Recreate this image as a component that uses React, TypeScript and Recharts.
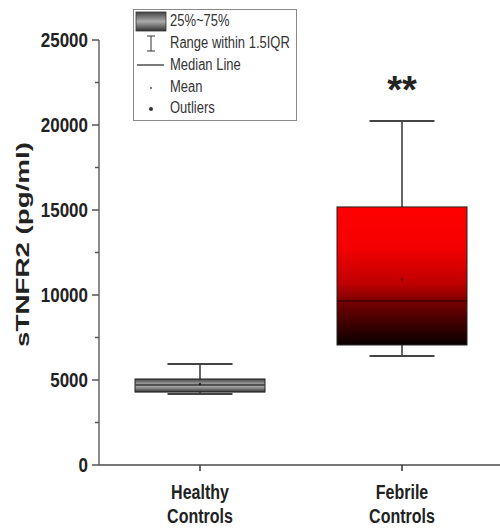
import React from "react";
import { ComposedChart, Bar, XAxis, YAxis } from "recharts";

// ---- data ----
const categories = ["Healthy Controls", "Febrile Controls"];
const whiskerLow = [4180, 6410];
const q1 = [4290, 7060];
const median = [4710, 9650];
const q3 = [5060, 15180];
const whiskerHigh = [5940, 20240];
const mean = [4760, 10900];
const significance = ["", "**"];
const yTicks = [0, 2500, 5000, 7500, 10000, 12500, 15000, 17500, 20000, 22500, 25000];
const legendLabels = ["25%~75%", "Range within 1.5IQR", "Median Line", "Mean", "Outliers"];
const yLabel = "sTNFR2 (pg/ml)";

const data = categories.map((c, i) => ({
  name: c,
  box: [q1[i], q3[i]],
  q1: q1[i],
  q3: q3[i],
  median: median[i],
  low: whiskerLow[i],
  high: whiskerHigh[i],
  mean: mean[i],
  sig: significance[i],
  idx: i,
}));

const FONT = "'Liberation Sans', Arial, sans-serif";

const BoxShape = (props: any) => {
  const { x, y, width, height, payload } = props;
  const h = Math.abs(height);
  const top = Math.min(y, y + height);
  const k = h / (payload.q3 - payload.q1);
  const yOf = (v: number) => top + (payload.q3 - v) * k;
  const cx = x + width / 2;
  const capW = width / 2;
  const gid = `boxgrad${payload.idx}`;
  const red = payload.idx === 1;
  return (
    <g>
      <defs>
        {red ? (
          <linearGradient id={gid} x1="0" y1="0" x2="0" y2="1">
            <stop offset="0" stopColor="#ff0000" />
            <stop offset="0.3" stopColor="#f40000" />
            <stop offset="0.55" stopColor="#c00000" />
            <stop offset="0.72" stopColor="#6a0000" />
            <stop offset="1" stopColor="#0a0000" />
          </linearGradient>
        ) : (
          <linearGradient id={gid} x1="0" y1="0" x2="0" y2="1">
            <stop offset="0" stopColor="#444" />
            <stop offset="0.3" stopColor="#8c8c8c" />
            <stop offset="0.5" stopColor="#b5b5b5" />
            <stop offset="0.75" stopColor="#7a7a7a" />
            <stop offset="1" stopColor="#333" />
          </linearGradient>
        )}
      </defs>
      <line x1={cx} x2={cx} y1={yOf(payload.high)} y2={top} stroke="#333" strokeWidth={1.5} />
      <line x1={cx} x2={cx} y1={top + h} y2={yOf(payload.low)} stroke="#333" strokeWidth={1.5} />
      <line x1={cx - capW / 2} x2={cx + capW / 2} y1={yOf(payload.high)} y2={yOf(payload.high)} stroke="#444" strokeWidth={2} />
      <line x1={cx - capW / 2} x2={cx + capW / 2} y1={yOf(payload.low)} y2={yOf(payload.low)} stroke="#444" strokeWidth={2} />
      <rect x={x} y={top} width={width} height={h} fill={`url(#${gid})`} stroke="#222" strokeWidth={1} />
      <line x1={x} x2={x + width} y1={yOf(payload.median)} y2={yOf(payload.median)} stroke={red ? "#3a0000" : "#333"} strokeWidth={1.5} />
      <rect x={cx - 1} y={yOf(payload.mean) - 1} width={2} height={2} fill={red ? "#5a0000" : "#222"} />
      {payload.sig ? (
        <text x={cx} y={yOf(payload.high) - 18} textAnchor="middle" fontSize={38} fontWeight="bold" fontFamily={FONT} fill="#222">
          {payload.sig}
        </text>
      ) : null}
    </g>
  );
};

const YTick = (props: any) => {
  const { x, y, payload } = props;
  const major = payload.value % 5000 === 0;
  return (
    <g>
      <line x1={x} x2={x - (major ? 7 : 4)} y1={y} y2={y} stroke="#555" strokeWidth={1.5} />
      {major ? (
        <text
          transform={`translate(${x - 11},${y}) scale(1,1.2)`}
          textAnchor="end"
          dominantBaseline="central"
          fontSize={17}
          fontWeight="bold"
          fontFamily={FONT}
          fill="#222"
        >
          {payload.value}
        </text>
      ) : null}
    </g>
  );
};

const XTick = (props: any) => {
  const { x, y, payload } = props;
  const words = String(payload.value).split(" ");
  return (
    <g>
      <line x1={x} x2={x} y1={y} y2={y + 6} stroke="#333" strokeWidth={1.5} />
      {words.map((w, i) => (
        <text
          key={i}
          transform={`translate(${x},${y + 34 + i * 24}) scale(1,1.25)`}
          textAnchor="middle"
          fontSize={16}
          fontWeight="bold"
          fontFamily={FONT}
          fill="#222"
        >
          {w}
        </text>
      ))}
    </g>
  );
};

const YLabel = (props: any) => {
  const vb = props.viewBox || { x: 0, y: 40, width: 99, height: 425 };
  const cy = vb.y + vb.height / 2 - 8;
  return (
    <text
      transform={`translate(29,${cy}) rotate(-90) scale(1.46,1)`}
      textAnchor="middle"
      fontSize={19}
      fontWeight="bold"
      fontFamily={FONT}
      fill="#222"
    >
      {yLabel}
    </text>
  );
};

const LegendBox = () => {
  const rows = [12, 34, 56, 78, 99];
  return (
    <svg width={165} height={113} style={{ position: "absolute", left: 133, top: 9 }}>
      <defs>
        <linearGradient id="legGrad" x1="0" y1="0" x2="0" y2="1">
          <stop offset="0" stopColor="#444" />
          <stop offset="0.5" stopColor="#aaa" />
          <stop offset="1" stopColor="#333" />
        </linearGradient>
      </defs>
      <rect x={0.5} y={0.5} width={163} height={111} fill="#fff" stroke="#888" strokeWidth={1} />
      <rect x={3} y={3} width={30} height={19} fill="url(#legGrad)" stroke="#333" strokeWidth={0.8} />
      <line x1={18} x2={18} y1={27} y2={42} stroke="#333" strokeWidth={1} />
      <line x1={14} x2={22} y1={27} y2={27} stroke="#333" strokeWidth={1} />
      <line x1={14} x2={22} y1={42} y2={42} stroke="#333" strokeWidth={1} />
      <line x1={4} x2={31} y1={56} y2={56} stroke="#333" strokeWidth={1.3} />
      <circle cx={18} cy={79} r={0.9} fill="#444" />
      <circle cx={18} cy={100} r={2} fill="#333" />
      {legendLabels.map((t, i) => (
        <text
          key={t}
          transform={`translate(37,${rows[i]}) scale(1,1.2)`}
          dominantBaseline="central"
          fontSize={13}
          fontFamily={FONT}
          fill="#333"
        >
          {t}
        </text>
      ))}
    </svg>
  );
};

export default function App() {
  return (
    <div style={{ position: "absolute", left: 0, top: 0, width: 500, height: 528, overflow: "hidden", background: "#fff" }}>
      <ComposedChart width={503} height={528} data={data} margin={{ top: 40, right: 0, bottom: 0, left: 0 }}>
        <XAxis
          dataKey="name"
          type="category"
          height={63}
          tickSize={0}
          tickMargin={0}
          tick={<XTick />}
          axisLine={{ stroke: "#777", strokeWidth: 2 }}
          tickLine={false}
          interval={0}
        />
        <YAxis
          type="number"
          domain={[0, 25000]}
          ticks={yTicks}
          width={99}
          tickSize={0}
          tickMargin={0}
          tick={<YTick />}
          tickLine={false}
          axisLine={{ stroke: "#666", strokeWidth: 1.5 }}
          interval={0}
          allowDataOverflow
          label={<YLabel />}
        />
        <Bar dataKey="box" barSize={130} shape={<BoxShape />} isAnimationActive={false} />
      </ComposedChart>
      <LegendBox />
    </div>
  );
}
